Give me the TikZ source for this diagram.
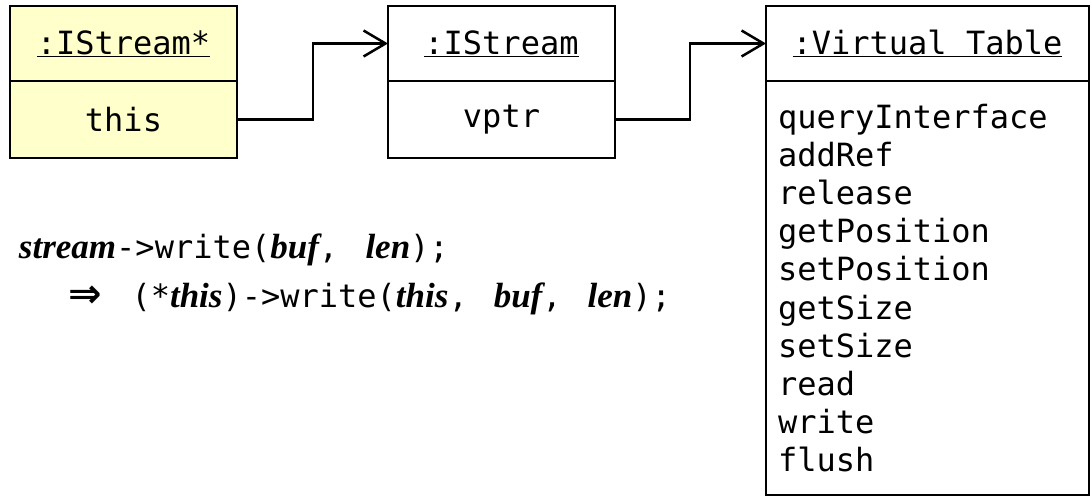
\documentclass[tikz,border=0pt]{standalone}
\usepackage{fontspec}
\setmainfont{Liberation Serif}
\setmonofont{DejaVu Sans Mono}
\newfontfamily\arrowfont{DejaVu Sans}
\usetikzlibrary{positioning,arrows.meta}
\definecolor{notefill}{RGB}{255,255,204}
\newcommand{\argname}[1]{{\fontsize{35}{38}\selectfont\rmfamily\bfseries\itshape #1}}

\begin{document}
\begin{tikzpicture}[x=1pt,y=-1pt,line width=2.5pt,outer sep=0pt,inner sep=0pt,
    font=\fontsize{32}{38.2}\selectfont\ttfamily,
    objhead/.style={draw, minimum width=227pt, minimum height=75pt},
    objbody/.style={draw, minimum width=227pt, minimum height=77pt},
    link/.style={-{Straight Barb[length=22pt,width=26pt]}}]
    \useasboundingbox (0,0) rectangle (1092,498);
    \node[objhead, fill=notefill] (ptrhead) at (123.5,43.5) {\underline{:IStream*}};
    \node[objbody, fill=notefill, below=0pt of ptrhead] (ptrbody) {this};
    \node[objhead] (objhead) at (501.5,43.5) {\underline{:IStream}};
    \node[objbody, below=0pt of objhead] (objbody) {vptr};
    \node[objhead, minimum width=323pt] (vtblhead) at (927.5,43.5) {\underline{:Virtual Table}};
    \node[draw, minimum width=323pt, minimum height=414pt, text width=299pt, align=left,
      below=0pt of vtblhead] (vtblbody) {queryInterface\\addRef\\release\\getPosition\\setPosition\\getSize\\setSize\\read\\write\\flush};
    \draw[link] (ptrbody.east) -- ++(76,0) |- (objhead.west);
    \draw[link] (objbody.east) -- ++(75,0) |- (vtblhead.west);
    \node[anchor=base west] (call) at (19,258) {\argname{stream}->write(\argname{buf},\ \hspace{8pt}\argname{len});};
    \node[anchor=base west] (thiscall) at (68,307) {{\fontsize{40}{40}\selectfont\arrowfont\bfseries ⇒}\hspace{30pt}(*\argname{this})->write(\argname{this},\hspace{26pt}\argname{buf},\hspace{26pt}\argname{len});};
\end{tikzpicture}
\end{document}
